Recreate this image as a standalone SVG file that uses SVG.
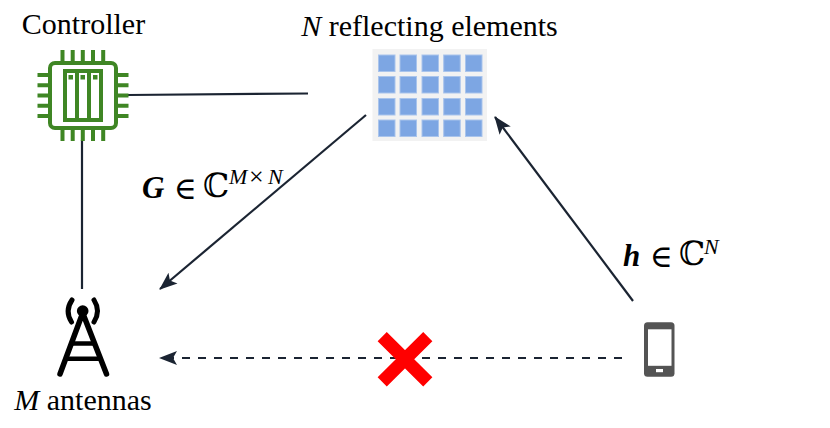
<svg xmlns="http://www.w3.org/2000/svg" width="830" height="428" viewBox="0 0 830 428">
<style>
.lbl{font-family:"Liberation Serif",serif;font-size:30px;fill:#000}
.conn{fill:none;stroke:#1b2432;stroke-width:2.2}
.pin{stroke:#3f8624;stroke-width:4;fill:none}
.cell{fill:#7da6e3;stroke:#a9c4ec;stroke-width:1}
.bar{stroke:#000;stroke-width:5.500;stroke-linecap:round;fill:none}
.math{font-family:"Liberation Serif",serif;fill:#000}
.sym{font-family:"DejaVu Serif",serif;fill:#000}
</style>
<defs>
<marker id="ah" markerUnits="userSpaceOnUse" markerWidth="20" markerHeight="16" refX="17" refY="7" orient="auto" viewBox="0 0 20 14">
<path d="M0 0L18 7L0 14L4 7Z" fill="#1b2432"/>
</marker>
</defs>
<g id="connectors">
<path class="conn" d="M82 140V289"/>
<path class="conn" d="M128 95L308 93.500"/>
<path class="conn" d="M366 115L160 289" marker-end="url(#ah)"/>
<path class="conn" d="M633 301L495 117" marker-end="url(#ah)"/>
<path class="conn" d="M622 358H160" stroke-dasharray="8 8" marker-end="url(#ah)"/>
</g>
<g id="controller">
<rect x="50" y="63" width="66" height="65" rx="5" class="pin"/>
<rect x="65" y="71" width="36" height="49" class="pin"/>
<path class="pin" d="M77 71V120M89 71V120"/>
<path d="M68.500 75h4.500v4.500h-4.500zM80.500 75h4.500v4.500h-4.500zM93 75h4.500v4.500H93z" fill="#3f8624"/>
<path class="pin" d="M62.500 50V61M72.700 50V61M82.800 50V61M93 50V61M103.200 50V61M62.500 130V141M72.700 130V141M82.800 130V141M93 130V141M103.200 130V141M37.500 75H48M37.500 85.200H48M37.500 95.500H48M37.500 105.700H48M37.500 116H48M118 75H128.500M118 85.200H128.500M118 95.500H128.500M118 105.700H128.500M118 116H128.500"/>
<text class="lbl" x="83.500" y="34" text-anchor="middle">Controller</text>
</g>
<g id="ris">
<rect x="372.500" y="49" width="114.500" height="92" fill="#f2f2f2"/>
<g class="cell">
<rect x="378.500" y="55" width="16.500" height="16.500"/><rect x="400" y="55" width="16.500" height="16.500"/><rect x="422" y="55" width="16.500" height="16.500"/><rect x="443.700" y="55" width="16.500" height="16.500"/><rect x="465.500" y="55" width="16.500" height="16.500"/>
<rect x="378.500" y="76.500" width="16.500" height="16.500"/><rect x="400" y="76.500" width="16.500" height="16.500"/><rect x="422" y="76.500" width="16.500" height="16.500"/><rect x="443.700" y="76.500" width="16.500" height="16.500"/><rect x="465.500" y="76.500" width="16.500" height="16.500"/>
<rect x="378.500" y="98.500" width="16.500" height="16.500"/><rect x="400" y="98.500" width="16.500" height="16.500"/><rect x="422" y="98.500" width="16.500" height="16.500"/><rect x="443.700" y="98.500" width="16.500" height="16.500"/><rect x="465.500" y="98.500" width="16.500" height="16.500"/>
<rect x="378.500" y="120" width="16.500" height="16.500"/><rect x="400" y="120" width="16.500" height="16.500"/><rect x="422" y="120" width="16.500" height="16.500"/><rect x="443.700" y="120" width="16.500" height="16.500"/><rect x="465.500" y="120" width="16.500" height="16.500"/>
</g>
<text class="lbl" x="429.500" y="36" text-anchor="middle"><tspan font-style="italic">N</tspan> reflecting elements</text>
</g>
<g id="bs">
<circle cx="82.700" cy="311" r="5.800" fill="#000"/>
<path class="bar" d="M82.700 313L60 374M82.700 313L106.500 374"/>
<path d="M72 343.500H94M66 358.800H100" stroke="#000" stroke-width="4.500" fill="none"/>
<path d="M72 300Q64.500 311 71.500 322M94 300Q101 311 94 322" stroke="#000" stroke-width="5" fill="none" stroke-linecap="round"/>
<text class="lbl" x="83" y="410" text-anchor="middle"><tspan font-style="italic">M</tspan> antennas</text>
</g>
<g id="ue">
<rect x="644" y="322.300" width="30.500" height="54.500" rx="3.500" fill="#545454"/>
<rect x="648" y="329.300" width="23.500" height="36.500" fill="#fff"/>
<rect x="656" y="369" width="7" height="3.200" fill="#fff"/>
</g>
<g id="cross">
<path d="M382.200 336.700L427.800 381.800M427.800 336.700L382.200 381.800" stroke="#ff0000" stroke-width="13" fill="none"/>
</g>
<g id="labels">
<text class="math" x="142" y="198" font-size="31" font-weight="bold" font-style="italic">G</text>
<text class="sym" x="174" y="199" font-size="31" font-weight="normal">∈</text>
<text class="sym" x="203" y="197" font-size="33">ℂ</text>
<text class="math" x="229" y="184" font-size="22" font-style="italic">M</text>
<text class="math" x="249" y="185" font-size="26">×</text>
<text class="math" x="268" y="184" font-size="22" font-style="italic">N</text>
<text class="math" x="623" y="266" font-size="31" font-weight="bold" font-style="italic">h</text>
<text class="sym" x="650" y="267" font-size="31">∈</text>
<text class="sym" x="679" y="265" font-size="33">ℂ</text>
<text class="math" x="704" y="254" font-size="22" font-style="italic">N</text>
</g>
</svg>
